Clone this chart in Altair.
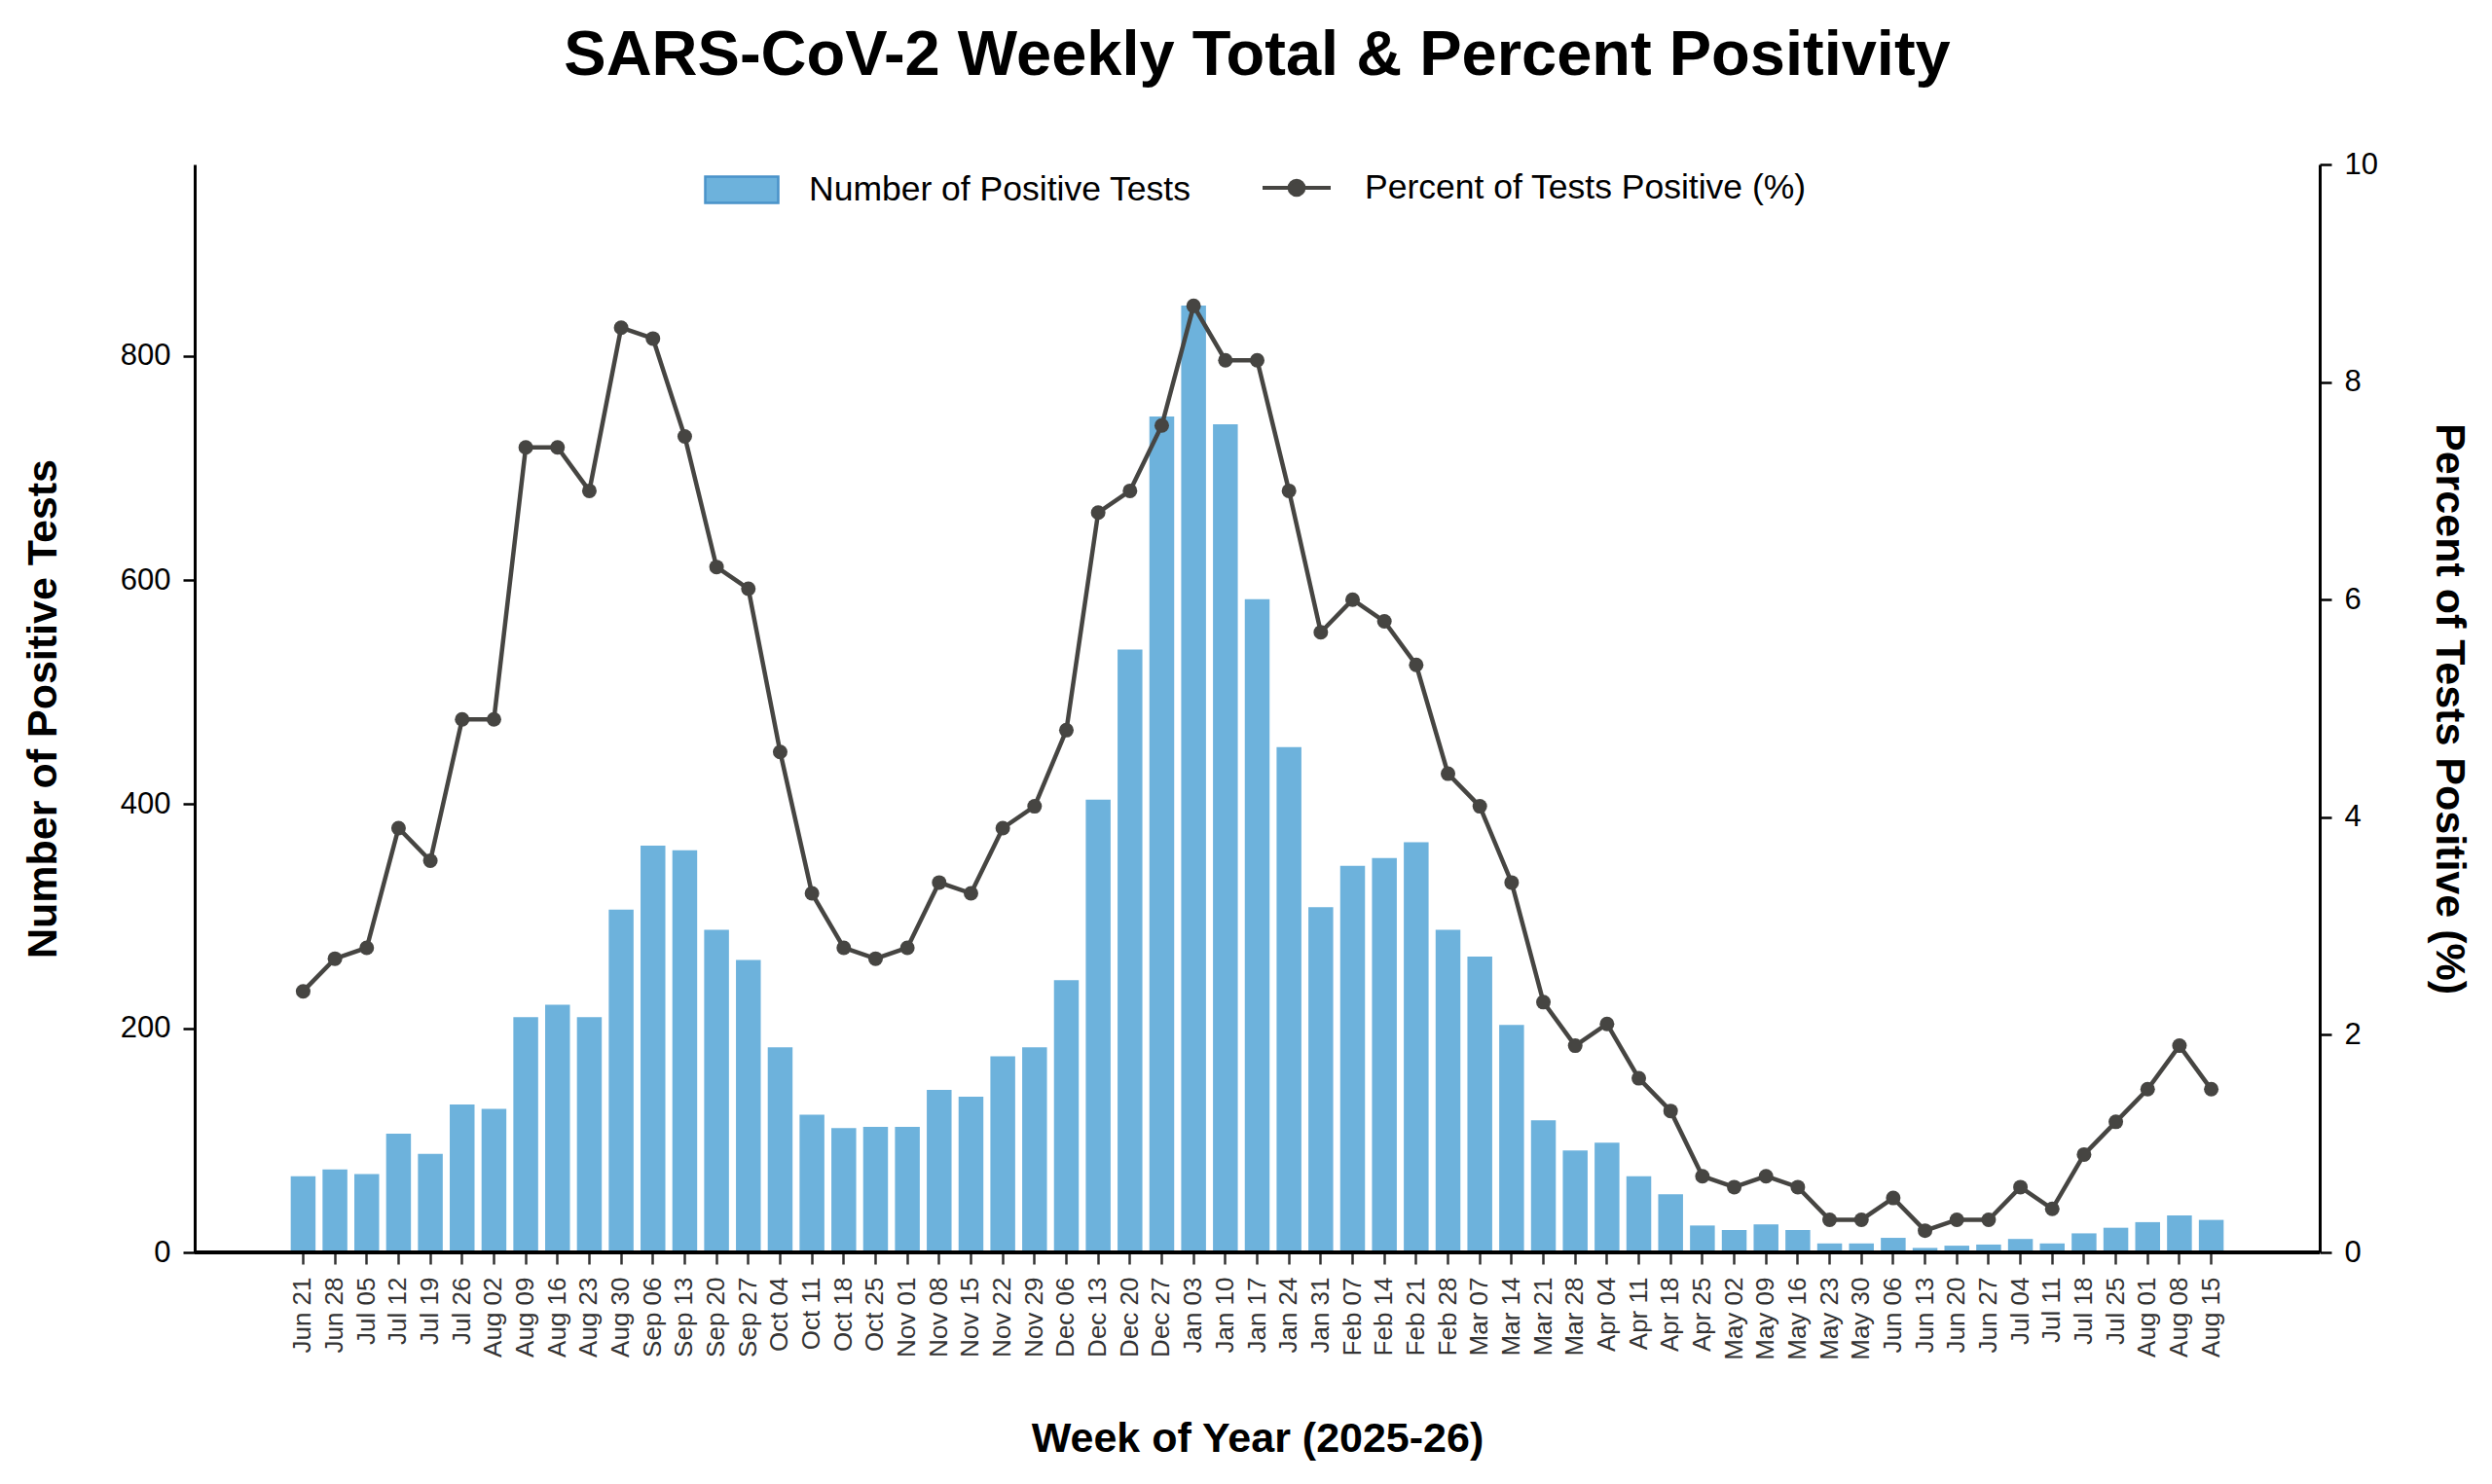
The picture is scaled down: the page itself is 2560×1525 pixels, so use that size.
import altair as alt
import pandas as pd

weeks = [
    "Jun 21", "Jun 28", "Jul 05", "Jul 12", "Jul 19", "Jul 26", "Aug 02", "Aug 09",
    "Aug 16", "Aug 23", "Aug 30", "Sep 06", "Sep 13", "Sep 20", "Sep 27", "Oct 04",
    "Oct 11", "Oct 18", "Oct 25", "Nov 01", "Nov 08", "Nov 15", "Nov 22", "Nov 29",
    "Dec 06", "Dec 13", "Dec 20", "Dec 27", "Jan 03", "Jan 10", "Jan 17", "Jan 24",
    "Jan 31", "Feb 07", "Feb 14", "Feb 21", "Feb 28", "Mar 07", "Mar 14", "Mar 21",
    "Mar 28", "Apr 04", "Apr 11", "Apr 18", "Apr 25", "May 02", "May 09", "May 16",
    "May 23", "May 30", "Jun 06", "Jun 13", "Jun 20", "Jun 27", "Jul 04", "Jul 11",
    "Jul 18", "Jul 25", "Aug 01", "Aug 08", "Aug 15",
]

positives = [
    68, 74, 70, 106, 88, 132, 128, 210,
    221, 210, 306, 363, 359, 288, 261, 183,
    123, 111, 112, 112, 145, 139, 175, 183,
    243, 404, 538, 746, 845, 739, 583, 451,
    308, 345, 352, 366, 288, 264, 203, 118,
    91, 98, 68, 52, 24, 20, 25, 20,
    8, 8, 13, 4, 6, 7, 12, 8,
    17, 22, 27, 33, 29,
]

percent = [
    2.4, 2.7, 2.8, 3.9, 3.6, 4.9, 4.9, 7.4,
    7.4, 7.0, 8.5, 8.4, 7.5, 6.3, 6.1, 4.6,
    3.3, 2.8, 2.7, 2.8, 3.4, 3.3, 3.9, 4.1,
    4.8, 6.8, 7.0, 7.6, 8.7, 8.2, 8.2, 7.0,
    5.7, 6.0, 5.8, 5.4, 4.4, 4.1, 3.4, 2.3,
    1.9, 2.1, 1.6, 1.3, 0.7, 0.6, 0.7, 0.6,
    0.3, 0.3, 0.5, 0.2, 0.3, 0.3, 0.6, 0.4,
    0.9, 1.2, 1.5, 1.9, 1.5,
]

bar_label = "Number of Positive Tests"
line_label = "Percent of Tests Positive (%)"
left_ticks = [0, 200, 400, 600, 800]
right_ticks = [0, 2, 4, 6, 8, 10]

df = pd.DataFrame({
    "week": weeks,
    "positives": positives,
    "percent": percent,
    "bar_series": bar_label,
    "line_series": line_label,
})

FONT = "Liberation Sans"
W, H = 2183, 1118
X_INSET = 66
BAR_COLOR = "#6db2dc"
LINE_COLOR = "#464542"

x_enc = alt.X(
    "week:N",
    sort=weeks,
    scale=alt.Scale(paddingInner=0.22, paddingOuter=1, range=[X_INSET, W - X_INSET]),
    axis=alt.Axis(
        title="Week of Year (2025-26)",
        labelAngle=270,
        labelAlign="right",
        labelBaseline="middle",
        labelFontSize=26,
        labelColor="#333333",
        labelPadding=13,
        tickColor="#333333",
        tickSize=12,
        tickWidth=2.5,
        domain=False,
        titleFontSize=43,
        titleFontWeight="bold",
        titleColor="black",
        titleX=W / 2,
        titleY=191,
        titleAlign="center",
        titleBaseline="middle",
        labelOverlap=False,
        grid=False,
    ),
)

y_left = alt.Y(
    "positives:Q",
    scale=alt.Scale(domain=[0, 971], nice=False, zero=True),
    axis=alt.Axis(
        orient="left",
        values=left_ticks,
        format="d",
        title=bar_label,
        titleFontSize=43,
        titleFontWeight="bold",
        titleColor="black",
        titleAngle=270,
        titleX=-156,
        titleY=H / 2,
        titleAlign="center",
        titleBaseline="middle",
        labelFontSize=31,
        labelColor="black",
        labelPadding=13,
        tickSize=12,
        tickWidth=2.5,
        tickColor="black",
        domainColor="black",
        domainWidth=3,
        grid=False,
    ),
)

bars = alt.Chart(df).mark_bar().encode(
    x=x_enc,
    y=y_left,
    fill=alt.Fill(
        "bar_series:N",
        scale=alt.Scale(range=[BAR_COLOR]),
        legend=alt.Legend(
            title=None,
            orient="none",
            legendX=523,
            legendY=-13,
            direction="horizontal",
            symbolType="M-1,-0.36H1V0.36H-1Z",
            symbolSize=5625,
            symbolStrokeColor="#4a93c9",
            symbolStrokeWidth=2.5,
            symbolOpacity=1,
            labelFontSize=35.5,
            labelColor="black",
            labelOffset=30,
            labelLimit=0,
            padding=0,
        ),
    ),
)

# bottom spine along the zero line of the left scale, spanning the full plot width
baseline = alt.Chart(df).mark_rule(color="black", strokeWidth=3).encode(
    y=alt.datum(0, type="quantitative"),
    x=alt.value(0),
    x2=alt.value(W),
)

left_layer = alt.layer(bars, baseline)

y_right = alt.Y(
    "percent:Q",
    scale=alt.Scale(domain=[0, 10], nice=False),
    axis=alt.Axis(
        orient="right",
        values=right_ticks,
        format="d",
        title=line_label,
        titleFontSize=43,
        titleFontWeight="bold",
        titleColor="black",
        titleAngle=90,
        titleX=132,
        titleY=H / 2,
        titleAlign="center",
        titleBaseline="middle",
        labelFontSize=31,
        labelColor="black",
        labelPadding=13,
        tickSize=12,
        tickWidth=2.5,
        tickColor="black",
        domainColor="black",
        domainWidth=3,
        grid=False,
    ),
)

line = alt.Chart(df).mark_line(strokeWidth=4.5).encode(
    x=x_enc,
    y=y_right,
    stroke=alt.Stroke(
        "line_series:N",
        scale=alt.Scale(range=[LINE_COLOR]),
        legend=alt.Legend(
            title=None,
            orient="none",
            legendX=1095,
            legendY=-13,
            direction="horizontal",
            symbolType="M-1,0H1M-0.21,0A0.21,0.21 0 1,0 0.21,0A0.21,0.21 0 1,0 -0.21,0Z",
            symbolSize=4900,
            symbolStrokeWidth=4,
            symbolFillColor=LINE_COLOR,
            labelFontSize=35.5,
            labelColor="black",
            labelOffset=33,
            labelLimit=0,
            padding=0,
        ),
    ),
)

points = alt.Chart(df).mark_point(filled=True, size=225, opacity=1, color=LINE_COLOR).encode(
    x=x_enc,
    y=y_right,
)

right_layer = alt.layer(line, points)

chart = alt.layer(left_layer, right_layer).resolve_scale(y="independent").properties(
    width=W,
    height=H,
    background="white",
    padding={"left": 192, "top": 161, "right": 169, "bottom": 230},
    autosize=alt.AutoSizeParams(type="none"),
    title=alt.TitleParams(
        "SARS-CoV-2 Weekly Total & Percent Positivity",
        fontSize=65,
        font=FONT,
        fontWeight="bold",
        color="black",
        anchor="middle",
        offset=62,
    ),
).configure_view(stroke=None).configure_axis(
    grid=False, labelFont=FONT, titleFont=FONT
).configure_legend(labelFont=FONT)

chart.save("out.html", embed_options={"renderer": "svg", "actions": False})
